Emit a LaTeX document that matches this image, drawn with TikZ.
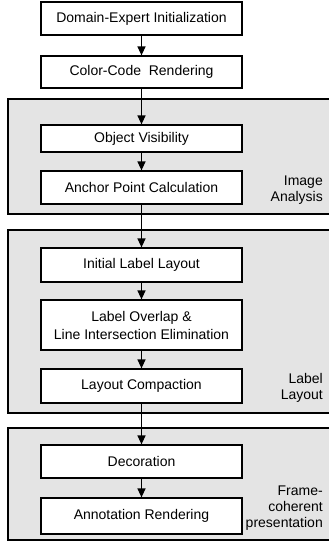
\documentclass[tikz,border=0pt]{standalone}
\usepackage{fontspec}
\setmainfont{Liberation Sans}
\usetikzlibrary{arrows.meta}
\definecolor{groupgray}{HTML}{E4E4E4}
\begin{document}
\begin{tikzpicture}[x=1pt,y=-1pt,
  stepbox/.style={draw,line width=1.2pt,fill=white,minimum width=201pt,inner sep=0pt,align=center,font=\fontsize{14}{18}\selectfont},
  grouplabel/.style={anchor=east,align=right,inner sep=0pt,font=\fontsize{14}{16}\selectfont},
  flow/.style={line width=1.2pt,-{Triangle[length=9pt,width=8pt]}},
  groupline/.style={line width=1.2pt}]
\useasboundingbox (0,0) rectangle (329,542);
% groups
\fill[groupgray] (8,99) rectangle (329,214);
\draw[groupline] (329,99) -- (8,99) -- (8,214) -- (329,214);
\fill[groupgray] (8,230) rectangle (329,413);
\draw[groupline] (329,230) -- (8,230) -- (8,413) -- (329,413);
\fill[groupgray] (8,428) rectangle (329,540);
\draw[groupline] (329,428) -- (8,428) -- (8,540) -- (329,540);
% boxes
\node[stepbox,minimum height=33pt] (b1) at (141.5,18.5) {Domain-Expert Initialization};
\node[stepbox,minimum height=32pt] (b2) at (141.5,72) {Color-Code~~Rendering};
\node[stepbox,minimum height=27pt] (b3) at (141.5,138.5) {Object Visibility};
\node[stepbox,minimum height=33pt] (b4) at (141.5,187.5) {Anchor Point Calculation};
\node[stepbox,minimum height=34pt] (b5) at (141.5,265) {Initial Label Layout};
\node[stepbox,minimum height=50pt] (b6) at (141.5,325) {Label Overlap \&\\Line Intersection Elimination};
\node[stepbox,minimum height=34pt] (b7) at (141.5,386) {Layout Compaction};
\node[stepbox,minimum height=33pt] (b8) at (141.5,461.5) {Decoration};
\node[stepbox,minimum height=36pt] (b9) at (141.5,516) {Annotation Rendering};
% group labels
\node[grouplabel] (g1) at (323,190) {Image\\Analysis};
\node[grouplabel] (g2) at (323,387.5) {Label\\Layout};
\node[grouplabel] (g3) at (323,508) {Frame-\\coherent\\presentation};
% arrows
\draw[flow] (b1) -- (b2);
\draw[flow] (b2) -- (b3);
\draw[flow] (b3) -- (b4);
\draw[flow] (b4) -- (b5);
\draw[flow] (b5) -- (b6);
\draw[flow] (b6) -- (b7);
\draw[flow] (b7) -- (b8);
\draw[flow] (b8) -- (b9);
\end{tikzpicture}
\end{document}
